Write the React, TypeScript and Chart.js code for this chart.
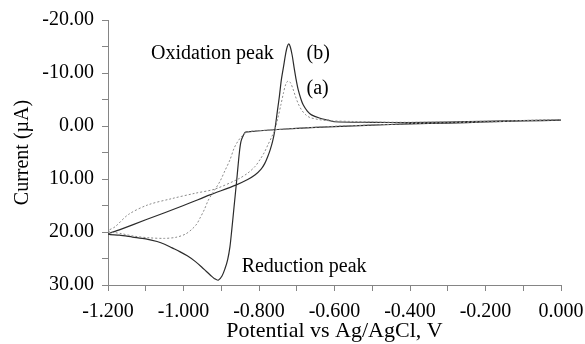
import React, { useEffect, useRef } from "react";
import { Chart, registerables } from "chart.js";

Chart.register(...registerables);

// Curve (b): sweep from 0.0 V down to -1.2 V and back (potential in V, current in µA)
const solidPotential = [
  0.0, -0.1, -0.2, -0.3, -0.4, -0.5, -0.6, -0.7, -0.78, -0.83, -0.837, -0.843, -0.848,
  -0.852, -0.859, -0.866, -0.872, -0.877, -0.883, -0.89, -0.898, -0.908, -0.918, -0.928,
  -0.94, -0.952, -0.97, -0.99, -1.01, -1.03, -1.05, -1.07, -1.1, -1.135, -1.17, -1.2,
  -1.17, -1.1, -1.0, -0.93, -0.86, -0.83, -0.81, -0.795, -0.785, -0.777, -0.77, -0.764,
  -0.759, -0.755, -0.751, -0.746, -0.741, -0.735, -0.729, -0.725, -0.721, -0.717, -0.712,
  -0.707, -0.702, -0.696, -0.689, -0.683, -0.672, -0.661, -0.64, -0.617, -0.6, -0.5, -0.4,
  -0.3, -0.2, -0.1, 0.0,
];
const solidCurrent = [
  -1.1, -0.95, -0.75, -0.55, -0.4, -0.15, 0.1, 0.45, 0.8, 1.1, 1.2, 2.0, 3.0,
  5.0, 10.2, 15.2, 19.5, 22.8, 25.2, 26.9, 28.3, 29.1, 28.8, 28.2,
  27.4, 26.6, 25.5, 24.5, 23.7, 23.0, 22.3, 21.8, 21.3, 20.95, 20.6, 20.4,
  19.6, 17.7, 15.0, 13.0, 11.1, 10.1, 9.2, 8.2, 7.1, 5.8, 4.4, 2.9,
  1.2, -0.8, -3.0, -5.6, -8.6, -11.2, -13.8, -15.0, -15.5, -14.9, -13.3,
  -11.0, -8.9, -6.8, -5.1, -4.0, -2.8, -2.1, -1.5, -1.1, -0.8, -0.7, -0.65,
  -0.75, -0.9, -1.0, -1.1,
];

// Curve (a): same sweep, dotted trace
const dottedPotential = [
  0.0, -0.1, -0.2, -0.3, -0.4, -0.5, -0.6, -0.7, -0.78, -0.83, -0.845, -0.856, -0.866,
  -0.877, -0.89, -0.903, -0.915, -0.926, -0.935, -0.945, -0.955, -0.965, -0.978, -0.995,
  -1.02, -1.05, -1.09, -1.13, -1.165, -1.2,
  -1.181, -1.146, -1.095, -1.031, -0.97, -0.917, -0.855, -0.83, -0.81, -0.797, -0.786,
  -0.776, -0.766, -0.758, -0.75, -0.742, -0.735, -0.729, -0.723, -0.717, -0.71, -0.704,
  -0.696, -0.687, -0.676, -0.665, -0.64, -0.617, -0.55, -0.5, -0.4, -0.3, -0.2, -0.1, 0.0,
];
const dottedCurrent = [
  -1.2, -1.0, -0.75, -0.6, -0.45, -0.2, 0.05, 0.45, 0.8, 1.1, 1.9, 2.9, 4.2,
  6.4, 8.4, 10.4, 11.8, 13.0, 14.1, 15.8, 17.2, 18.5, 19.5, 20.4,
  21.0, 21.2, 21.1, 20.8, 20.3, 19.8,
  19.0, 16.7, 14.9, 13.7, 12.7, 11.9, 10.0, 8.9, 7.6, 6.3, 5.0,
  3.5, 2.0, 0.7, -1.5, -4.0, -6.3, -7.9, -8.5, -8.2, -7.0, -5.7,
  -4.2, -3.0, -2.1, -1.6, -1.2, -1.0, -0.85, -0.75, -0.7, -0.75, -0.9, -1.05, -1.2,
];

// Axis ranges
const potentialMin = -1.2;
const potentialMax = 0.0;
const potentialStep = 0.1;
const currentMin = -20;
const currentMax = 30;
const currentStep = 5;

// Text notes placed at (potential, current)
const noteText = ["Oxidation peak", "(b)", "(a)", "Reduction peak"];
const notePotential = [-1.086, -0.674, -0.674, -0.846];
const noteCurrent = [-12.55, -12.7, -6.0, 27.6];

const FONT_FAMILY = '"Liberation Serif", "Times New Roman", serif';
const AXIS_GRAY = "#858585";

const toPoints = (xs: number[], ys: number[]) => xs.map((x, i) => ({ x, y: ys[i] }));

const notesPlugin = {
  id: "peakNotes",
  afterDatasetsDraw(chart: any) {
    const { ctx, scales } = chart;
    const x = scales.x;
    const y = scales.y;
    ctx.save();
    ctx.font = `20px ${FONT_FAMILY}`;
    ctx.fillStyle = "#000";
    ctx.textAlign = "left";
    ctx.textBaseline = "alphabetic";
    noteText.forEach((t, i) => {
      ctx.fillText(t, x.getPixelForValue(notePotential[i]), y.getPixelForValue(noteCurrent[i]));
    });
    ctx.restore();
  },
};

export default function App() {
  const canvasRef = useRef<HTMLCanvasElement | null>(null);

  useEffect(() => {
    const canvas = canvasRef.current;
    if (!canvas) return;
    const tickFont = { family: FONT_FAMILY, size: 20 };
    const chart = new Chart(canvas, {
      type: "scatter",
      data: {
        datasets: [
          {
            label: "(a)",
            data: toPoints(dottedPotential, dottedCurrent),
            showLine: true,
            borderColor: "#8a8a8a",
            borderWidth: 1,
            borderDash: [2, 2],
            pointRadius: 0,
            tension: 0.3,
            fill: false,
          },
          {
            label: "(b)",
            data: toPoints(solidPotential, solidCurrent),
            showLine: true,
            borderColor: "#2b2b2b",
            borderWidth: 1.2,
            pointRadius: 0,
            tension: 0.3,
            fill: false,
          },
        ],
      },
      options: {
        responsive: false,
        animation: false,
        devicePixelRatio: 1,
        layout: { padding: { top: 20, right: 24, left: 0, bottom: 0 } },
        plugins: {
          legend: { display: false },
          tooltip: { enabled: false },
        },
        scales: {
          x: {
            type: "linear",
            position: "bottom",
            min: potentialMin,
            max: potentialMax,
            ticks: {
              stepSize: potentialStep,
              autoSkip: false,
              maxRotation: 0,
              padding: 9,
              color: "#000",
              font: tickFont,
              callback: (v: any) =>
                Math.round(Math.abs(Number(v) * 10)) % 2 === 0 ? Number(v).toFixed(3) : "",
            },
            grid: {
              display: true,
              drawOnChartArea: false,
              drawTicks: true,
              tickLength: 6,
              color: AXIS_GRAY,
            },
            border: { display: true, color: AXIS_GRAY, width: 1 },
            title: {
              display: true,
              text: "Potential vs Ag/AgCl, V",
              color: "#000",
              font: { family: FONT_FAMILY, size: 22 },
              padding: { top: 0, bottom: 0 },
            },
            afterFit: (s: any) => {
              s.height = 59;
              s.paddingLeft = 0;
              s.paddingRight = 0;
            },
          },
          y: {
            type: "linear",
            reverse: true,
            min: currentMin,
            max: currentMax,
            ticks: {
              stepSize: currentStep,
              autoSkip: false,
              padding: 8,
              color: "#000",
              font: tickFont,
              callback: (v: any) =>
                Math.round(Number(v)) % 10 === 0 ? Number(v).toFixed(2) : "",
            },
            grid: {
              display: true,
              drawOnChartArea: false,
              drawTicks: true,
              tickLength: 6,
              color: AXIS_GRAY,
            },
            border: { display: true, color: AXIS_GRAY, width: 1 },
            title: {
              display: true,
              text: "Current (µA)",
              color: "#000",
              font: { family: FONT_FAMILY, size: 20 },
              padding: { top: 11, bottom: 0 },
            },
            afterFit: (s: any) => {
              s.width = 108;
              s.paddingTop = 0;
              s.paddingBottom = 0;
            },
          },
        },
      },
      plugins: [notesPlugin],
    } as any);
    return () => chart.destroy();
  }, []);

  return (
    <div style={{ position: "absolute", left: 0, top: 0, width: 585, height: 344, background: "#fff" }}>
      <canvas ref={canvasRef} width={585} height={344} style={{ display: "block" }} />
    </div>
  );
}
